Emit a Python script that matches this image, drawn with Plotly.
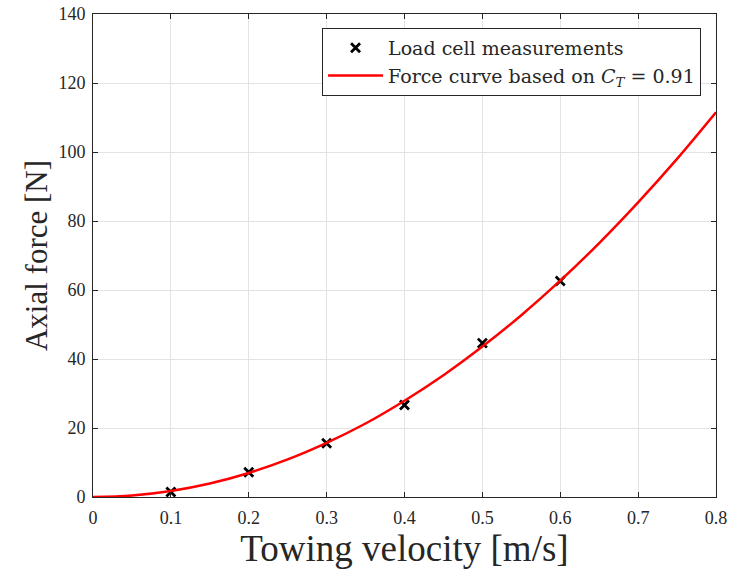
import plotly.graph_objects as go

# Measurements
meas_v = [0.1, 0.2, 0.3, 0.4, 0.5, 0.6]
meas_f = [1.45, 7.2, 15.6, 26.7, 44.6, 62.6]

# Force curve
curve_v = [0, 0.05, 0.1, 0.15, 0.2, 0.25, 0.3, 0.35, 0.4, 0.45, 0.5, 0.55, 0.6, 0.65, 0.7, 0.75, 0.8]
curve_f = [0, 0.44, 1.74, 3.92, 6.97, 10.9, 15.7, 21.3, 27.9, 35.3, 43.6, 52.7, 62.7, 73.6, 85.4, 98.0, 111.5]

x_ticks = [0, 0.1, 0.2, 0.3, 0.4, 0.5, 0.6, 0.7, 0.8]
y_ticks = [0, 20, 40, 60, 80, 100, 120, 140]

FONT = "Liberation Serif, DejaVu Serif, serif"
LEG_FONT = "DejaVu Serif, Liberation Serif, serif"

fig = go.Figure()
fig.add_trace(go.Scatter(
    x=meas_v, y=meas_f, mode="markers", name="Load cell measurements",
    marker=dict(symbol="x-thin", size=9, color="black", line=dict(width=2.8, color="black")),
))
fig.add_trace(go.Scatter(
    x=curve_v, y=curve_f, mode="lines", line_shape="spline",
    name="Force curve based on <i>C</i><sub><i>T</i></sub> = 0.91",
    line=dict(color="#ff0000", width=2.5),
))

axis_common = dict(
    showline=True, linecolor="#262626", linewidth=1, mirror="ticks",
    ticks="inside", ticklen=5, tickcolor="#262626",
    showgrid=True, gridcolor="#e3e3e3", gridwidth=1, zeroline=False,
    tickfont=dict(family=FONT, size=18, color="#262626"),
)

fig.update_layout(
    width=731, height=572,
    margin=dict(l=93, r=15, t=14, b=75),
    paper_bgcolor="white", plot_bgcolor="white",
    font=dict(family=FONT, color="#262626"),
    xaxis=dict(range=[0, 0.8], tickvals=x_ticks, ticktext=[str(t) for t in x_ticks],
               ticklabelstandoff=4, automargin=False,
               title=dict(text="Towing velocity [m/s]", font=dict(family=FONT, size=37), standoff=6),
               **axis_common),
    yaxis=dict(range=[0, 140], tickvals=y_ticks, ticklabelstandoff=3, automargin="left",
               title=dict(text="Axial force [N]", font=dict(family=FONT, size=31), standoff=1),
               **axis_common),
    legend=dict(x=0.976, y=0.971, xanchor="right", yanchor="top",
                bgcolor="white", bordercolor="#262626", borderwidth=1,
                font=dict(family=LEG_FONT, size=19, color="#262626"),
                itemwidth=55, tracegroupgap=0),
    showlegend=True,
)

fig.write_html("out.html", config={"displayModeBar": False},
               post_script="document.body.style.margin='0';")
